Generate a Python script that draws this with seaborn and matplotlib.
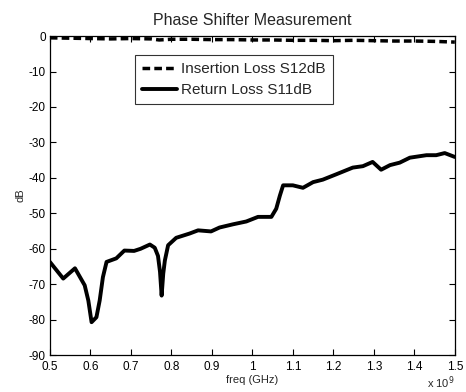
import numpy as np
import pandas as pd
import matplotlib.pyplot as plt
import seaborn as sns

# frequency (GHz, axis shown with x 10^9 multiplier) and S-parameters in dB
freq_s11 = [0.500, 0.533, 0.562, 0.586, 0.595, 0.603, 0.615, 0.623, 0.631, 0.640,
            0.664, 0.684, 0.708, 0.724, 0.747, 0.759, 0.767, 0.772, 0.776, 0.780,
            0.784, 0.792, 0.812, 0.845, 0.866, 0.898, 0.919, 0.952, 0.985, 1.014,
            1.047, 1.059, 1.068, 1.076, 1.100, 1.125, 1.150, 1.174, 1.207, 1.248,
            1.273, 1.297, 1.318, 1.340, 1.364, 1.389, 1.430, 1.454, 1.475, 1.500]
s11_db = [-63.7, -68.4, -65.5, -70.3, -74.6, -80.7, -79.3, -74.6, -68.0, -63.7,
          -62.7, -60.5, -60.6, -60.0, -58.8, -59.7, -62.0, -66.5, -73.2, -67.0,
          -63.3, -59.0, -56.9, -55.7, -54.8, -55.1, -54.0, -53.1, -52.3, -51.0,
          -51.0, -48.7, -45.0, -42.1, -42.1, -42.8, -41.2, -40.5, -39.0, -37.1,
          -36.7, -35.5, -37.7, -36.4, -35.7, -34.3, -33.6, -33.6, -33.0, -34.1]

freq_s12 = [0.500, 0.550, 0.600, 0.650, 0.700, 0.750, 0.770, 0.800, 0.850, 0.900,
            0.950, 1.000, 1.050, 1.100, 1.150, 1.200, 1.250, 1.300, 1.350, 1.400,
            1.450, 1.500]
s12_db = [-0.5, -0.6, -0.7, -0.8, -0.7, -0.8, -1.1, -0.9, -0.9, -1.0,
          -1.0, -1.1, -1.1, -1.2, -1.2, -1.3, -1.2, -1.3, -1.4, -1.4,
          -1.5, -1.7]

df11 = pd.DataFrame({"freq": freq_s11, "dB": s11_db})
df12 = pd.DataFrame({"freq": freq_s12, "dB": s12_db})

sns.set_style("white")
plt.rcParams['font.family'] = ['Liberation Sans', 'DejaVu Sans']
plt.rcParams['axes.unicode_minus'] = False

fig = plt.figure(figsize=(4.66, 3.92), dpi=100)
ax = fig.add_axes([0.107, 0.094, 0.869, 0.814])

sns.lineplot(data=df12, x="freq", y="dB", ax=ax, color="black", lw=2.5,
             linestyle=(0, (2.2, 1.2)), label="Insertion Loss S12dB")
sns.lineplot(data=df11, x="freq", y="dB", ax=ax, color="black", lw=2.8,
             label="Return Loss S11dB")

ax.set_xlim(0.5, 1.5)
ax.set_ylim(-90, 0)
ax.set_xticks(np.arange(0.5, 1.51, 0.1))
ax.set_xticklabels(["0.5", "0.6", "0.7", "0.8", "0.9", "1", "1.1", "1.2", "1.3", "1.4", "1.5"])
ax.set_yticks(np.arange(-90, 1, 10))
ax.tick_params(direction="in", length=4, width=0.8, labelsize=8.5, colors="black",
               top=True, right=True, bottom=True, left=True)
ax.tick_params(axis="x", pad=4)
ax.tick_params(axis="y", pad=3)
for s in ax.spines.values():
    s.set_color("black")
    s.set_linewidth(0.9)

ax.set_xlabel("freq (GHz)", fontsize=8, labelpad=2)
ax.set_ylabel("dB", fontsize=8, labelpad=2)
ax.set_title("Phase Shifter Measurement", fontsize=11.5, pad=8)
ax.text(1.0, -0.085, "x 10$^9$", transform=ax.transAxes, ha="right", va="center",
        fontsize=8)

leg = ax.legend(loc="upper left", bbox_to_anchor=(0.21, 0.94), fontsize=11,
                frameon=True, fancybox=False, edgecolor="black", handlelength=2.3,
                handletextpad=0.3, borderpad=0.45, labelspacing=0.45, borderaxespad=0)
leg.get_frame().set_linewidth(0.8)

fig.savefig("out.png", dpi=100)
